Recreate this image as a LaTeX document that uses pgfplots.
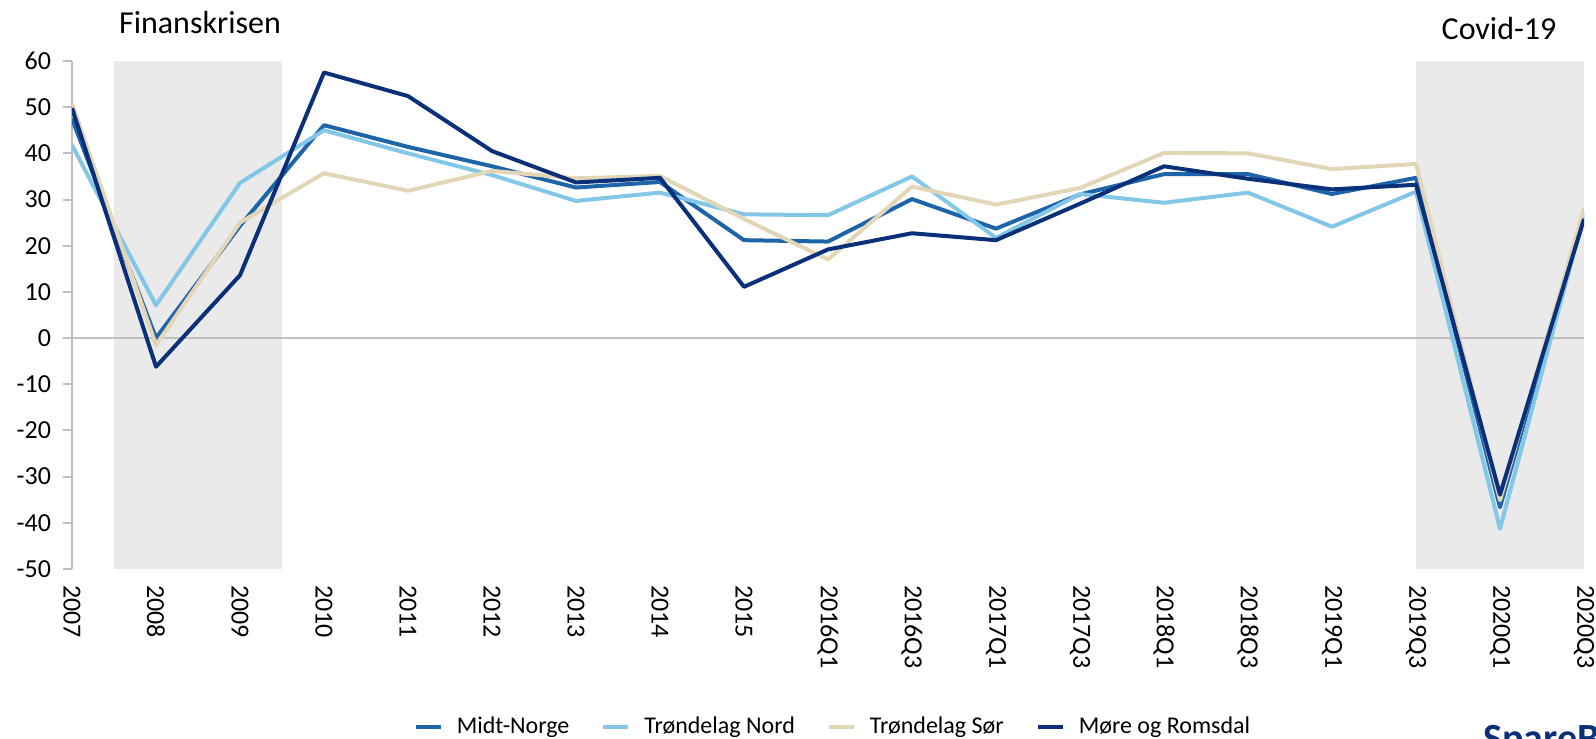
\documentclass[border=0pt]{standalone}
\usepackage{pgfplots}
\pgfplotsset{compat=1.18}
\usepackage{pgfplotstable}
\usepackage{fontspec}
\setmainfont{Carlito}
\definecolor{cMidt}{RGB}{30,100,168}
\definecolor{cNord}{RGB}{130,198,232}
\definecolor{cSor}{RGB}{227,214,182}
\definecolor{cMore}{RGB}{10,48,122}
\definecolor{cBand}{RGB}{234,234,234}
\definecolor{cAxis}{RGB}{191,191,191}
\pgfplotstableread{
idx Midt Nord Sor More
0 47.5 41.8 50.8 49.8
1 0.0 7.1 -1.5 -6.2
2 24.3 33.6 25.0 13.6
3 46.1 45.0 35.7 57.5
4 41.4 40.0 31.9 52.4
5 37.2 35.3 36.2 40.5
6 32.6 29.7 34.6 33.7
7 33.8 31.5 35.1 34.7
8 21.2 26.8 25.8 11.1
9 20.9 26.6 17.0 19.2
10 30.1 35.0 32.8 22.7
11 23.7 21.7 28.9 21.2
12 31.1 31.2 32.5 29.1
13 35.5 29.3 40.1 37.2
14 35.5 31.5 40.0 34.5
15 31.2 24.1 36.6 32.2
16 34.7 31.7 37.7 33.2
17 -36.6 -41.3 -35.1 -33.9
18 27.1 26.7 28.1 25.8
}\data
\begin{document}
\begin{tikzpicture}
\useasboundingbox (-36pt,-85pt) rectangle (762pt,284.5pt);
\begin{axis}[
  at={(0pt,0pt)}, anchor=south west,
  scale only axis, width=756pt, height=254pt,
  xmin=0, xmax=18, ymin=-50, ymax=60,
  xtick={0,...,18},
  xticklabels={2007,2008,2009,2010,2011,2012,2013,2014,2015,2016Q1,2016Q3,2017Q1,2017Q3,2018Q1,2018Q3,2019Q1,2019Q3,2020Q1,2020Q3},
  ytick={-50,-40,-30,-20,-10,0,10,20,30,40,50,60},
  yticklabels={-50,-40,-30,-20,-10,0,10,20,30,40,50,60},
  axis lines*=left,
  x axis line style={draw=none},
  y axis line style={draw=cAxis, line width=1pt},
  tick align=outside,
  major tick length=4.5pt,
  ytick style={draw=cAxis, line width=1pt},
  xtick style={draw=none},
  tick label style={font=\fontsize{13}{15}\selectfont},
  yticklabel style={xshift=-2.5pt},
  xticklabel style={rotate=-90, anchor=west},
  legend style={at={(axis description cs:0.504,-0.311)}, anchor=center, draw=none,
    font=\fontsize{12}{14}\selectfont,
    /tikz/every odd column/.append style={column sep=5pt},
    /tikz/every even column/.append style={column sep=14pt}},
  legend columns=4,
  legend image code/.code={\draw[#1, line width=2pt] (0pt,0pt) -- (12.5pt,0pt);},
  line join=round,
]
\fill[cBand] (axis cs:0.5,-50) rectangle (axis cs:2.5,60);
\fill[cBand] (axis cs:16,-50) rectangle (axis cs:18,60);
\draw[cAxis, line width=1pt] (axis cs:0,0) -- (axis cs:18,0);
\addplot[cMidt, line width=2pt] table[x=idx, y=Midt]{\data};
\addlegendentry{Midt-Norge}
\addplot[cNord, line width=2pt] table[x=idx, y=Nord]{\data};
\addlegendentry{Trøndelag Nord}
\addplot[cSor, line width=2pt] table[x=idx, y=Sor]{\data};
\addlegendentry{Trøndelag Sør}
\addplot[cMore, line width=2pt] table[x=idx, y=More]{\data};
\addlegendentry{Møre og Romsdal}
\end{axis}
\node[font=\fontsize{16}{19}\selectfont] at (64pt,273.3pt) {Finanskrisen};
\node[font=\fontsize{16}{19}\selectfont] at (713.5pt,270.3pt) {Covid-19};
\node[anchor=base west, font=\fontsize{20}{24}\bfseries, text=cMore, inner sep=0pt] at (705.5pt,-91pt) {SpareBank 1};
\end{tikzpicture}
\end{document}
